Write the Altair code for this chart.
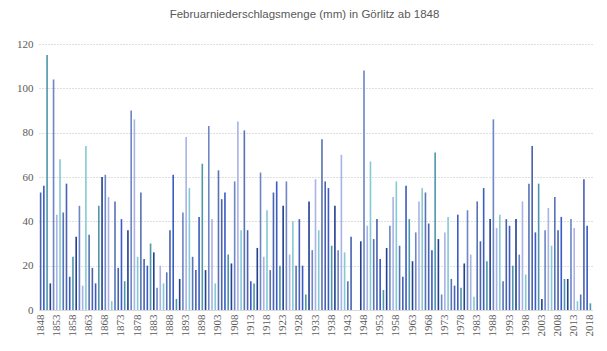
import altair as alt
import pandas as pd

years = list(range(1848, 2019))
precip = [
    # 1848-1871
    53, 56, 115, 12, 104, 43, 68, 44, 57, 15, 24, 33, 47, 11, 74, 34, 19, 12, 47, 60, 61, 51, 4, 49,
    # 1872-1896
    19, 41, 13, 36, 90, 86, 24, 53, 23, 20, 30, 26, 10, 20, 12, 17, 36, 61, 5, 14, 44, 78, 55, 24, 18,
    # 1897-1921
    42, 66, 18, 83, 41, 12, 63, 50, 53, 25, 21, 58, 85, 36, 81, 36, 13, 12, 28, 62, 24, 45, 18, 53, 58,
    # 1922-1946
    20, 47, 58, 25, 40, 20, 41, 20, 7, 49, 27, 59, 36, 77, 58, 55, 29, 47, 27, 70, 26, 13, 33, None, None,
    # 1947-1970
    31, 108, 38, 67, 32, 41, 23, 9, 28, 38, 51, 58, 29, 15, 56, 41, 22, 35, 49, 55, 53, 39, 27, 71,
    # 1971-1994
    32, 7, 35, 42, 14, 11, 43, 10, 21, 45, 25, 6, 49, 31, 55, 22, 41, 86, 37, 43, 13, 41, 38, 20,
    # 1995-2018
    41, 25, 49, 16, 57, 74, 35, 57, 5, 36, 46, 29, 51, 36, 42, 14, 14, 41, 37, 4, 7, 59, 38, 3,
]
label_years = list(range(1848, 2019, 5))
y_ticks = [0, 20, 40, 60, 80, 100, 120]
palette = ["#4a62b0", "#3b5cc4", "#4f97aa", "#24408f", "#6d86c4", "#a9b3e6", "#86c9d6", "#5874b4"]

df = pd.DataFrame({"year": years, "mm": precip})
df["shade"] = [i % len(palette) for i in range(len(df))]

font = "Liberation Serif"
grey = "#595959"

chart = (
    alt.Chart(df)
    .mark_bar()
    .encode(
        x=alt.X(
            "year:O",
            scale=alt.Scale(domain=years, paddingInner=0.5, paddingOuter=0.25),
            axis=alt.Axis(
                values=label_years,
                title=None,
                labelAngle=-90,
                labelFont=font,
                labelFontSize=11,
                labelColor=grey,
                labelPadding=4,
                ticks=False,
                domainColor="#d9d9d9",
                grid=False,
            ),
        ),
        y=alt.Y(
            "mm:Q",
            scale=alt.Scale(domain=[0, 120], nice=False),
            axis=alt.Axis(
                values=y_ticks,
                title=None,
                labelFont=font,
                labelFontSize=11,
                labelColor=grey,
                labelPadding=6,
                ticks=False,
                domain=False,
                gridColor="#bfbfbf",
                gridDash=[1, 2],
                gridWidth=1,
            ),
        ),
        color=alt.Color("shade:N", scale=alt.Scale(range=palette), legend=None),
    )
    .properties(
        width=553,
        height=266,
        title=alt.TitleParams(
            "Februarniederschlagsmenge (mm) in Görlitz ab 1848",
            font="Liberation Sans",
            fontSize=11.5,
            fontWeight="normal",
            color=grey,
            anchor="middle",
            dx=-11,
            offset=18,
        ),
        autosize=alt.AutoSizeParams(type="none"),
        padding={"left": 39, "top": 44, "right": 15, "bottom": 41},
    )
    .configure_view(stroke=None)
)

chart.save("out.html", embed_options={"renderer": "svg", "actions": False})
